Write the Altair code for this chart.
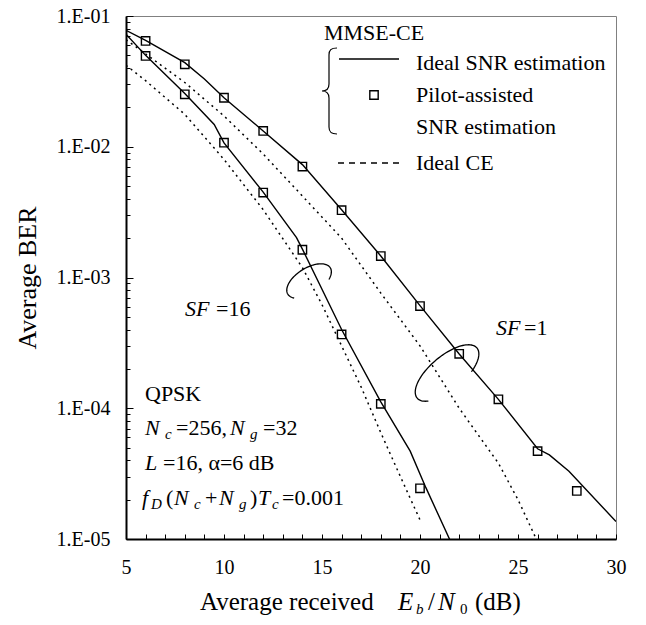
import altair as alt
import numpy as np
import pandas as pd

SERIF = "Liberation Serif"

# ---------------- data ----------------
# MMSE-CE, ideal SNR estimation (solid lines)
snr_sf1_line = [5, 6, 8, 9, 10, 12, 14, 16, 18, 20, 22, 24, 26, 26.6, 27.6, 30]
ber_sf1_line = [0.0777, 0.065, 0.044, 0.033, 0.0237, 0.0132, 0.0073, 0.0033, 0.00146,
                0.00061, 0.00026, 0.000117, 4.9e-5, 4.4e-5, 3.3e-5, 1.36e-5]
snr_sf16_line = [5, 6, 8, 9.5, 10, 12, 13.7, 14, 16, 18, 19.5, 20.3, 21.6]
ber_sf16_line = [0.0724, 0.050, 0.0255, 0.0148, 0.0107, 0.0045, 0.00202, 0.00165,
                 0.00040, 0.000112, 4.7e-5, 2.47e-5, 9.3e-6]

# MMSE-CE, pilot-assisted SNR estimation (squares)
snr_pilot_sf1 = [6, 8, 10, 12, 14, 16, 18, 20, 22, 24, 26, 28]
ber_pilot_sf1 = [0.0644, 0.0427, 0.0237, 0.0132, 0.00705, 0.00327, 0.00146, 0.000605,
                 0.000261, 0.000117, 4.7e-5, 2.33e-5]
snr_pilot_sf16 = [6, 8, 10, 12, 14, 16, 18, 20]
ber_pilot_sf16 = [0.0495, 0.0252, 0.01074, 0.00446, 0.00163, 0.000367, 0.000108, 2.44e-5]

# Ideal CE (dotted lines)
snr_ce_sf1 = [5, 8, 10, 12, 14, 16, 18, 20, 22, 24, 25, 26]
ber_ce_sf1 = [0.066, 0.031, 0.0172, 0.0088, 0.0042, 0.0020, 0.00076, 0.00030,
              0.000100, 3.8e-5, 2.0e-5, 9.5e-6]
snr_ce_sf16 = [5, 6, 8, 10, 12, 14, 15, 16, 17, 18, 19, 20]
ber_ce_sf16 = [0.042, 0.032, 0.0177, 0.0080, 0.0033, 0.00119, 6.2e-4, 3.0e-4,
               1.45e-4, 6.5e-5, 3.0e-5, 1.4e-5]

# axis ticks
x_ticks = list(range(5, 31))
y_ticks = [m * 10.0 ** k for k in range(-5, -1) for m in range(1, 10)] + [0.1]

# ---------------- tables ----------------
solid_df = pd.concat([
    pd.DataFrame({"snr": snr_sf1_line, "ber": ber_sf1_line, "curve": "SF1"}),
    pd.DataFrame({"snr": snr_sf16_line, "ber": ber_sf16_line, "curve": "SF16"}),
])
dotted_df = pd.concat([
    pd.DataFrame({"snr": snr_ce_sf1, "ber": ber_ce_sf1, "curve": "SF1"}),
    pd.DataFrame({"snr": snr_ce_sf16, "ber": ber_ce_sf16, "curve": "SF16"}),
])
pilot_df = pd.concat([
    pd.DataFrame({"snr": snr_pilot_sf1, "ber": ber_pilot_sf1, "curve": "SF1"}),
    pd.DataFrame({"snr": snr_pilot_sf16, "ber": ber_pilot_sf16, "curve": "SF16"}),
])
one = pd.DataFrame({"k": [0]})

y_major = "abs(log(datum.value)/LN10 - round(log(datum.value)/LN10)) < 0.001"

x_scale = alt.Scale(domain=[5, 30], nice=False, zero=False)
y_scale = alt.Scale(type="log", domain=[1e-5, 1e-1], nice=False)
x_axis = alt.Axis(values=x_ticks, title=None, format="d",
                  labelExpr="datum.value % 5 === 0 ? datum.label : ''",
                  labelOverlap=False, labelFlush=False,
                  tickSize={"expr": "-5"}, labelPadding=23,
                  labelFontSize=20, grid=False)
y_axis = alt.Axis(values=y_ticks, title="Average BER",
                  labelExpr=y_major + " ? '1.E-0' + round(-log(datum.value)/LN10) : ''",
                  labelOverlap=False, labelFlush=False,
                  tickSize={"condition": {"test": y_major, "value": -7}, "value": -4},
                  labelPadding=23, titlePadding=16, labelFontSize=20,
                  titleFontSize=26, grid=False)

x_enc = alt.X("snr:Q", scale=x_scale, axis=x_axis)
y_enc = alt.Y("ber:Q", scale=y_scale, axis=y_axis)

solid = alt.Chart(solid_df).mark_line(color="black", strokeWidth=1.4, clip=True).encode(
    x=x_enc, y=y_enc, detail="curve:N")
dotted = alt.Chart(dotted_df).mark_line(color="black", strokeWidth=1.5, strokeDash=[2, 4],
                                        clip=True).encode(
    x=x_enc, y=y_enc, detail="curve:N")
squares = alt.Chart(pilot_df).mark_point(shape="square", size=70, filled=False,
                                         color="black", strokeWidth=1.4, opacity=1,
                                         clip=True).encode(x=x_enc, y=y_enc)


def ptext(s, x, y, size=22, italic=False):
    return alt.Chart(one).mark_text(
        text=s, font=SERIF, fontSize=size, fontStyle="italic" if italic else "normal",
        align="left", baseline="alphabetic", color="black").encode(
        x=alt.value(x), y=alt.value(y))


def sub(s, x, y, italic=True):
    return ptext(s, x, y + 4, size=15, italic=italic)


def ellipse_path(a, b, rot_deg, gap0, gap1, n=80):
    t = np.radians(np.linspace(gap1, gap0 + 360, n))
    r = np.radians(rot_deg)
    xs = a * np.cos(t) * np.cos(r) - b * np.sin(t) * np.sin(r)
    ys = a * np.cos(t) * np.sin(r) + b * np.sin(t) * np.cos(r)
    pts = " L ".join(f"{px:.2f} {py:.2f}" for px, py in zip(xs, ys))
    return "M " + pts


def lasso(snr, ber, a, b, rot, g0, g1):
    return alt.Chart(one).mark_point(
        shape=ellipse_path(a, b, rot, g0, g1), size=4, filled=False, stroke="black",
        strokeWidth=1.3, opacity=1).encode(
        x=alt.XDatum(snr, type="quantitative", scale=x_scale, axis=x_axis),
        y=alt.YDatum(ber, type="quantitative", scale=y_scale, axis=y_axis))


brace_path = ("M 8 -43 C 2 -43 0 -41 0 -36 L 0 -7 C 0 -2 -3 0 -7 0 "
              "C -3 0 0 2 0 7 L 0 36 C 0 41 2 43 8 43")

layers = [solid, dotted, squares,
          lasso(14.34, 9.4e-4, 25, 13, -32, 45, 150),
          lasso(21.38, 1.86e-4, 39, 17, -40, 60, 146)]

# legend (inside plot, top right)
layers += [
    ptext("MMSE-CE", 198, 24),
    alt.Chart(one).mark_point(shape=brace_path, size=4, filled=False, stroke="black",
                              strokeWidth=1.2, opacity=1).encode(
        x=alt.value(203), y=alt.value(75)),
    alt.Chart(one).mark_rule(color="black", strokeWidth=1.4).encode(
        x=alt.value(213), x2=alt.value(273), y=alt.value(43)),
    ptext("Ideal SNR estimation", 290, 54),
    alt.Chart(one).mark_point(shape="square", size=70, filled=False, color="black",
                              strokeWidth=1.4, opacity=1).encode(
        x=alt.value(248), y=alt.value(79)),
    ptext("Pilot-assisted", 290, 86),
    ptext("SNR estimation", 290, 118),
    alt.Chart(one).mark_rule(color="black", strokeWidth=1.4, strokeDash=[6, 5]).encode(
        x=alt.value(212), x2=alt.value(278), y=alt.value(147)),
    ptext("Ideal CE", 290, 154),
]

# curve labels
layers += [
    ptext("SF", 59, 300, italic=True), ptext("=16", 90, 300),
    ptext("SF", 370, 319, italic=True), ptext("=1", 398, 319),
]

# parameters block
layers += [
    ptext("QPSK", 19, 385),
    ptext("N", 19, 419, italic=True), sub("c", 39, 419), ptext("=256,", 50, 419),
    ptext("N", 104, 419, italic=True), sub("g", 124, 419), ptext("=32", 137, 419),
    ptext("L", 19, 454, italic=True), ptext("=16, α=6 dB", 37, 454),
    ptext("f", 16, 489, italic=True), sub("D", 25, 489), ptext("(", 40, 489),
    ptext("N", 48, 489, italic=True), sub("c", 68, 489), ptext("+", 79, 489),
    ptext("N", 93, 489, italic=True), sub("g", 113, 489), ptext(")", 124, 489),
    ptext("T", 132, 489, italic=True), sub("c", 146, 489), ptext("=0.001", 156, 489),
]

# x axis title with italics and subscripts
layers += [
    ptext("Average received", 74, 594, size=25),
    ptext("E", 272, 594, size=25, italic=True), sub("b", 290, 594),
    ptext("/", 302, 594, size=25), ptext("N", 312, 594, size=25, italic=True),
    sub("0", 334, 594, italic=False), ptext("(dB)", 349, 594, size=25),
]

chart = alt.layer(*layers).properties(
    width=490, height=523,
    autosize=alt.AutoSizeParams(type="none"),
    padding={"left": 118, "top": 8, "right": 14, "bottom": 78},
).configure_view(stroke="#808080", strokeWidth=1).configure_axis(
    labelFont=SERIF, titleFont=SERIF, labelColor="black", titleColor="black",
    titleFontWeight="normal", domainColor="black", domainWidth=2,
    tickColor="black", tickWidth=1, labelOverlap=False)

chart.save("out.html", embed_options={"renderer": "svg", "actions": False})
